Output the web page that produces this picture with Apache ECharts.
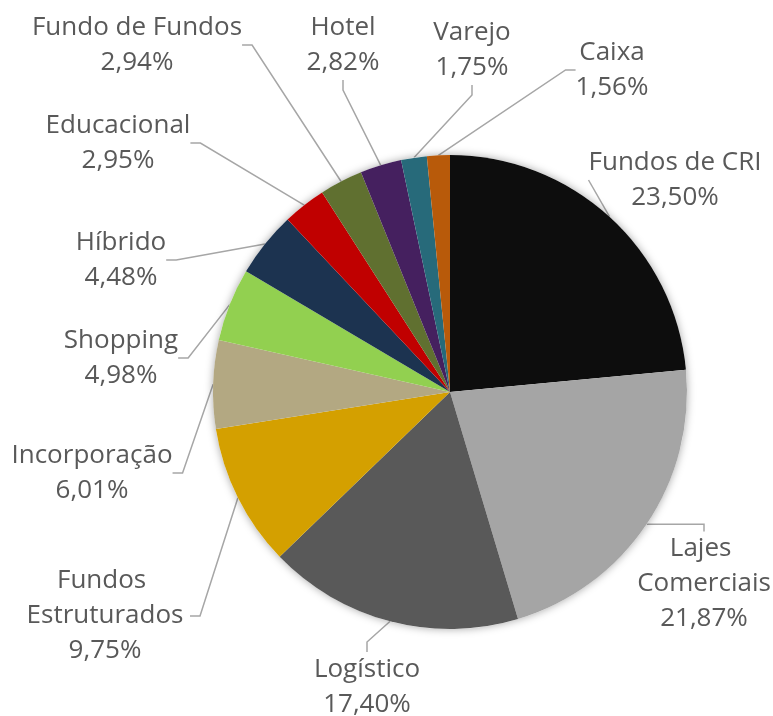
<!DOCTYPE html>
<html>
<head>
<meta charset="utf-8">
<script src="https://cdn.jsdelivr.net/npm/echarts@6/dist/echarts.min.js"></script>
<style>
  html, body { margin: 0; padding: 0; background: #fff; }
  #chart { width: 773px; height: 716px; }
</style>
</head>
<body>
<div id="chart"></div>
<script>
// categories and shares (%), clockwise from 12 o'clock
var categories = ['Fundos de CRI', 'Lajes Comerciais', 'Logístico', 'Fundos Estruturados',
    'Incorporação', 'Shopping', 'Híbrido', 'Educacional', 'Fundo de Fundos', 'Hotel', 'Varejo', 'Caixa'];
var shares = [23.50, 21.87, 17.40, 9.75, 6.01, 4.98, 4.48, 2.95, 2.94, 2.82, 1.75, 1.56];
var colors = ['#0d0d0d', '#a5a5a5', '#595959', '#d4a000', '#b3a882', '#92d050',
    '#1c3350', '#c00000', '#607030', '#45205f', '#276a7a', '#b85a0a'];

// label centres (layout only)
var labelPos = [
    [675, 180], [704, 584], [367, 687], [105, 616], [92, 473], [121, 358],
    [121, 260], [118, 143], [137, 45], [343, 45], [472, 50], [612, 70]
];

var chart = echarts.init(document.getElementById('chart'));

var total = shares.reduce(function (a, b) { return a + b; }, 0);

var pieData = categories.map(function (c, i) {
    var d = { name: c, value: shares[i], itemStyle: { color: colors[i] } };
    if (c === 'Lajes Comerciais') {
        d.label = { width: 150, overflow: 'break' };
    }
    if (c === 'Fundos Estruturados') {
        d.label = { width: 170, overflow: 'break' };
    }
    return d;
});

chart.setOption({
    animation: false,
    series: [{
        // shadow behind the whole pie
        type: 'pie',
        silent: true,
        center: [450, 392],
        radius: 237,
        label: { show: false },
        labelLine: { show: false },
        itemStyle: {
            color: '#fff',
            shadowBlur: 8,
            shadowColor: 'rgba(0,0,0,0.35)'
        },
        data: [total]
    }, {
        type: 'pie',
        center: [450, 392],
        radius: 237,
        startAngle: 90,
        clockwise: true,
        avoidLabelOverlap: false,
        itemStyle: { borderWidth: 0 },
        label: {
            show: true,
            color: '#595959',
            fontFamily: 'Open Sans',
            fontSize: 26,
            lineHeight: 35,
            align: 'center',
            formatter: function (p) {
                return p.name + '\n' + p.value.toFixed(2).replace('.', ',') + '%';
            }
        },
        labelLine: {
            show: true,
            length: 15,
            length2: 10,
            lineStyle: { color: '#a6a6a6', width: 1.5 }
        },
        data: pieData
    }]
});

chart.setOption({
    series: [{}, {
        labelLayout: function (params) {
            var p = labelPos[params.dataIndex];
            return { x: p[0], y: p[1], align: 'center', verticalAlign: 'middle' };
        }
    }]
});
</script>
</body>
</html>
